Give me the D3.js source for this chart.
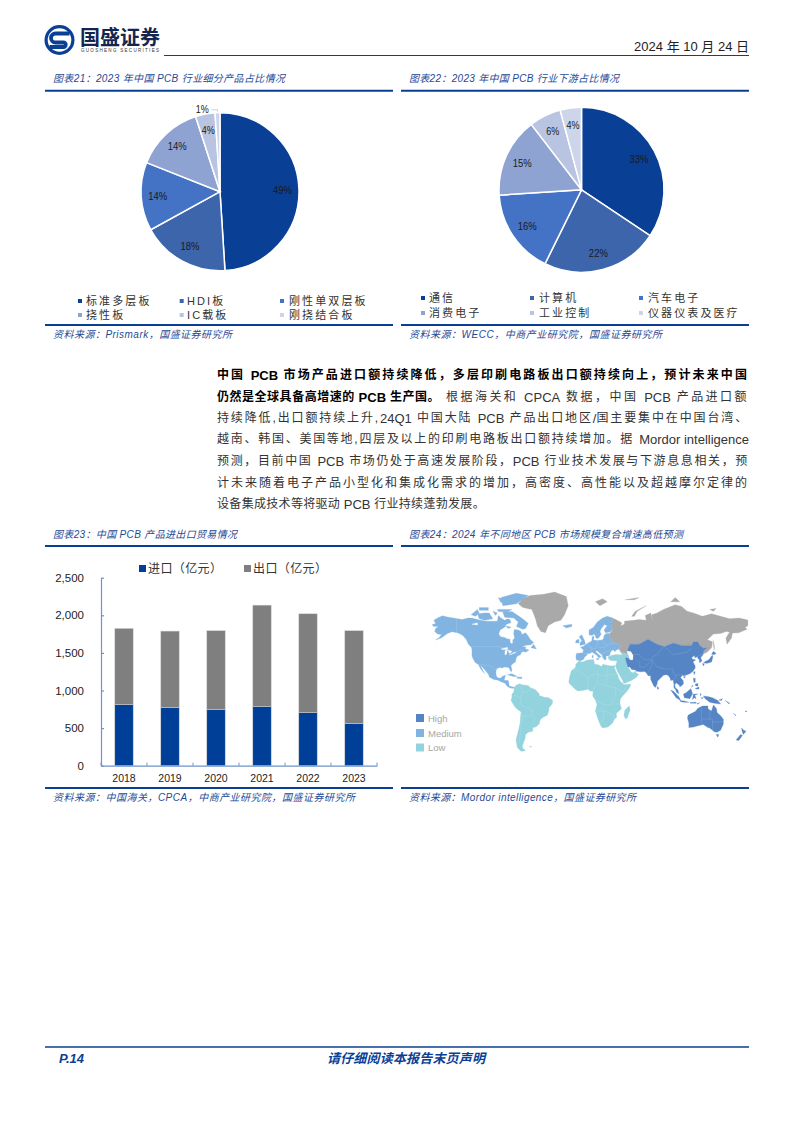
<!DOCTYPE html>
<html>
<head>
<meta charset="utf-8">
<script src="https://cdn.jsdelivr.net/npm/d3@7"></script>
<style>
html, body { margin: 0; padding: 0; background: #fff; }
svg { display: block; }
text { font-family: "Liberation Sans", "Noto Sans CJK SC", sans-serif; }
</style>
</head>
<body>
<svg width="794" height="1123"></svg>
<script>
'use strict'

// pies
const pie1Labels = ['标准多层板', 'HDI板', '刚性单双层板', '挠性板', 'IC载板', '刚挠结合板']
const pie1Values = [49, 18, 14, 14, 4, 1]
const pie2Labels = ['通信', '计算机', '汽车电子', '消费电子', '工业控制', '仪器仪表及医疗']
const pie2Values = [33, 22, 16, 15, 6, 4]
const pieColors = ['#0a3f96', '#3d65ab', '#4472c4', '#8fa3d3', '#b9c4e2', '#ccd5ea']

// bars
const years = ['2018', '2019', '2020', '2021', '2022', '2023']
const imports = [815, 775, 745, 790, 705, 560]
const exports_ = [1010, 1015, 1050, 1345, 1315, 1235]
const barTicks = [0, 500, 1000, 1500, 2000, 2500]

// map outlines, lon/lat
const greyLands = [
	[[-73,78],[-68,80.5],[-60,82],[-45,82.5],[-33,83.5],[-20,81.5],[-18,77],[-22,72],[-26,68.5],[-33,67.5],[-40,65],[-43,60],[-48,61],[-52,65],[-54,69.5],[-58,75],[-68,76]],
	[[28,70],[33,69.5],[41,67],[40,65],[44,66],[44,68],[54,68.5],[60,69],[68,68.5],[67,71.5],[73,73],[75,68],[74,72],[80,73],[87,75],[100,77.5],[107,76.5],[113,74],[120,73],[130,71],[140,72.5],[150,71],[160,69.5],[170,70],[178,69],[180,68.5],[180,65],[177,64],[179,62.5],[170,60],[163,59.8],[162,56],[157,51],[155.8,56],[160,60.5],[156,61],[150,59.5],[142,59],[135.5,54.7],[141,53],[140,48],[135,44],[131,42.7],[131,45],[135,48],[131,47.5],[127,50],[125,53],[120,53],[118,50],[107,50],[98,52],[88,49],[80,51],[70,55],[60,51],[50,51],[47,45],[48,42],[40,44],[38,47],[40,50],[32,52.5],[28,56],[28,59.5],[31,62.5],[29,66],[31,70]],
	[[52,71],[56,74],[68,77],[58,74],[55,71]],
	[[142,54],[143,50],[143,46],[142,50]],
	[[12,79],[20,80.5],[25,79],[17,77]],
	[[95,79],[105,79],[100,81]],
	[[45,80],[60,81],[55,80]],
	[[138,75],[145,75.5],[142,74]]
]
const highLands = [
	[[50,51],[60,51],[70,55],[80,51],[88,49],[98,52],[107,50],[118,50],[120,53],[125,53],[127,50],[131,47.5],[135,48],[131,45],[131,42.7],[129.5,40.5],[128,39],[129.5,36],[128,34.8],[126.3,34.5],[126.8,37],[125,38],[124.5,40],[121.5,39],[121.5,41],[118,39.2],[119,37.5],[122.5,37],[119.5,35],[121.8,31.5],[122,29],[119.5,25.5],[116,23],[113,22],[110,21],[108,21.5],[105.8,19],[108.8,15.5],[109,12],[106.5,10],[105,8.7],[104.8,10.5],[102.5,12.2],[100.8,13.3],[99.5,11],[100,8],[103,5.5],[104,1.5],[101.5,2.8],[100.3,6],[98.5,8],[98.5,12],[97.5,16.5],[95,15.8],[94.3,18.5],[92,21.5],[90,22],[87,21.5],[85,19.5],[80.3,15],[80,12],[78,8.2],[76,10.5],[73,17],[72.8,21],[70,21],[68.5,23.5],[66.5,25.3],[61.5,25],[57.5,25.7],[56,27],[52,27.5],[50,30],[48,30],[46,35],[45,39],[48.5,38.5],[53,37],[53.5,41],[51,44.5],[47,45]],
	[[95,5.5],[98,4],[104,-2],[106,-6],[101,-3]],
	[[105,-6],[110,-6.5],[115,-8],[110,-8],[106,-7.5]],
	[[109,1],[112,2.5],[117,7],[118,5],[119,1],[116,-4],[110,-3]],
	[[119,-5],[120,1],[125,1],[121.5,0],[123,-4],[121,-3]],
	[[131,-1],[137,-2],[141,-3],[147,-6],[150,-10],[143,-9],[138,-8],[133,-4]],
	[[120,18.5],[122,18],[122,14],[120.5,14]],
	[[122,7],[126,9],[126,6.5],[123,6.5]],
	[[122,12],[125,12.5],[125,10],[122.5,10]],
	[[117.5,8.5],[119.5,11],[119.5,10]],
	[[116,-8.2],[123,-8],[123,-9],[117,-9]],
	[[124,-9.3],[127,-8.5],[124,-10.2]],
	[[127.5,2],[128.5,1],[128,-1]],
	[[128,-3],[131,-3],[130,-4]],
	[[148,-5.5],[152,-4],[151,-6]],
	[[155,-6],[160,-9],[159,-9.5]],
	[[164,-20],[167,-22],[166.5,-22.5]],
	[[177,-17.5],[179,-17.5],[178,-18.5]],
	[[109,20],[111,20],[110,18.3]],
	[[120,25],[122,25],[121,22]],
	[[131,34],[135.5,33.6],[140,35],[141,38],[141.5,41],[140,40.5],[137,37],[133,35.5]],
	[[130,33.5],[132,33],[131,31]],
	[[140,42],[142,45],[145,43],[143,42]],
	[[80,9.7],[82,7.5],[80.5,6]],
	[[114,-22],[117,-20.5],[122,-18],[125,-14.5],[130,-12],[136,-12],[136,-15],[140,-17.5],[142,-11],[145.5,-15],[146,-19],[150,-22.5],[153,-26],[153,-31],[150,-37],[146,-39],[143,-38.5],[138,-35],[136,-34.5],[131,-31.5],[124,-33],[120,-34],[115,-34.5],[115,-30],[113.5,-25]],
	[[145,-41],[148,-41],[147,-43.5]],
	[[173,-35],[175.5,-37],[178,-38],[175,-41],[174,-39]],
	[[172,-41],[174,-42],[170,-46.5],[167,-46]]
]
const mediumLands = [
	[[-168,65.6],[-164,66.5],[-166,68.5],[-162,70],[-156.5,71.3],[-150,70.5],[-141,69.7],[-135,69],[-128,70],[-124,70],[-115,68.5],[-108,68],[-102,68],[-96,68],[-95,71.5],[-92,70],[-88,68.5],[-85,69.5],[-82,69],[-81,67],[-86,66],[-88,64],[-93,62],[-94.5,59],[-92.5,57],[-88,56.5],[-85,55.3],[-82,55],[-82,52.5],[-80,51.3],[-79,52],[-79,54.5],[-77,56],[-78,59],[-77.5,62.3],[-73,62],[-70,61],[-69,58.8],[-65,60],[-62,57.5],[-60,55],[-56,52.5],[-59,50.5],[-66,50],[-69,48.5],[-65,49],[-65,47],[-61,46],[-64,44.5],[-66,44],[-67,45],[-70,43.5],[-70.5,41.7],[-74,40.5],[-75.5,38],[-76,35],[-78,34],[-81,31.5],[-80,27],[-80.5,25],[-82,26.5],[-83,29],[-85,29.7],[-89,30],[-90,29],[-94,29.5],[-97,28],[-97.7,24],[-97,20.5],[-95,18.5],[-92,18.5],[-90.5,20.5],[-87,21.5],[-88,18],[-88.5,16],[-84,15.8],[-83.3,12],[-83,10],[-80,9],[-77.5,8.5],[-78,7.5],[-80,7.3],[-83,8.2],[-85.5,10],[-87.5,13],[-92,14.5],[-95,16],[-100,17],[-105,19.5],[-105.5,22],[-109,26],[-112.5,30],[-114.7,31.7],[-111,24.5],[-109.5,23],[-112,25],[-115,29],[-117,32.5],[-120.5,34.5],[-122.5,37.5],[-124,40.5],[-124,46],[-124.5,48.3],[-128,51],[-130,54.5],[-134,58],[-139,59.8],[-146,60.8],[-151,59.5],[-154,58],[-158,56],[-164,54.5],[-160,56.5],[-157.5,58.7],[-162,59],[-165,61],[-164,63],[-161,64.5],[-166,64.5]],
	[[-90,73.5],[-80,73.8],[-72,71],[-67,69],[-62,66.5],[-65,63],[-68,62.5],[-75,64.5],[-73,67.5],[-78,70],[-88,70.5]],
	[[-118,72.5],[-110,73],[-105,73],[-101,69.5],[-110,68.5],[-116,69.5]],
	[[-90,77],[-75,78],[-62,82],[-75,83],[-92,81]],
	[[-95,81],[-87,80],[-92,78.5]],
	[[-125,72],[-118,75],[-116,73],[-120,71]],
	[[-96,75],[-80,75],[-85,73.5],[-95,73.8]],
	[[-116,76],[-106,76],[-106,74.5],[-116,74.5]],
	[[-101,74],[-96,73],[-98,71.5]],
	[[-87,65],[-81,64],[-84,63]],
	[[-59,48],[-56,51],[-53,47]],
	[[-85,22],[-80,23],[-74,20],[-78,20]],
	[[-74,19.5],[-69,19.5],[-69,18],[-74,18]],
	[[-9,37],[-9.5,39],[-9,43],[-2,43.5],[-1,46],[-4.5,48.5],[-1.5,49],[2,51],[4,52],[8,53.7],[8.5,57],[10.5,57.5],[10,54.5],[14,54],[19,54.5],[21,55.5],[21.5,58],[24,59.5],[28,59.5],[28,56],[32,52.5],[40,50],[38,47],[35,46],[33.5,44.5],[32,46],[30,45.5],[28,43],[28,41.5],[26,40.7],[23.5,40.5],[24,38],[22.5,36.5],[20,39.5],[19.5,41.5],[15,44.5],[13.5,45.7],[12.3,44.5],[16,41.7],[18.5,40],[16.5,39.5],[16,38],[14,41],[10.5,43],[8.5,44.3],[6,43],[3,43],[3,41.7],[0,39.5],[-0.5,38],[-2,36.8],[-5.5,36]],
	[[5,58.5],[5,62],[10,64],[14,67.5],[20,70],[25,71],[31,70],[29,66],[31,62.5],[28,60.5],[23,60],[21.5,62],[25,65],[22,65.8],[18,62.5],[17,60.5],[18.5,59],[16,56.5],[14,55.5],[12.8,56],[11,59],[8,58]],
	[[-5,50],[1,51],[0,54],[-3,58.5],[-6,57],[-3,54],[-5,52]],
	[[-10,52],[-6,52],[-6,55],[-9,54.5]],
	[[-24,65],[-14,66],[-14,64.5],[-20,63.5]],
	[[12.5,38],[15.5,38.2],[15,36.7]],
	[[8.3,41],[9.7,41],[9.5,39],[8.5,39]]
]
const lowLands = [
	[[26,40],[29,41],[35,42],[41.5,41.5],[40,44],[48,42],[49.5,40.5],[48.5,38.5],[45,39],[46,35],[48,30],[50,27],[51.5,24.5],[54,24],[56.3,26],[56.5,24],[59.7,22.5],[57,19],[52,16],[45,13],[43,13],[42,16],[39,21],[36,26],[34.8,29],[34.3,31.2],[36,36],[32,36],[28,36.5],[26.5,38]],
	[[-6,35.8],[-2,35],[3,36.8],[10,37.3],[11,34],[10.5,33],[15,32.3],[19,30.5],[20,32.8],[25,31.7],[29,31],[32,31.3],[34.3,31.2],[32.7,29.5],[35,24.5],[37,21],[37.5,18.5],[39.5,15],[43,12],[43.5,11.3],[51,12],[50,8.5],[47,4.5],[42,-1],[39.5,-4.5],[39,-9],[40.7,-15],[35,-20],[35.5,-24],[32.8,-26],[31,-30],[26,-34],[20,-34.8],[18,-33],[15,-26.5],[12,-17.5],[13.7,-10.5],[12,-5.5],[9,-1],[9.5,4],[6,4.5],[4,6.3],[-2,5],[-7.5,4.5],[-11,7],[-13.5,9.5],[-16.8,12.5],[-17.3,15],[-16.3,20],[-14.5,26],[-10,29.5],[-9.5,33]],
	[[49.3,-12],[50.3,-16],[47,-25],[45,-25.5],[43.5,-22],[44.5,-16.5]],
	[[-77.5,8.5],[-75,11],[-71.5,12.4],[-68,11],[-62,10.5],[-60,8.3],[-54,5.8],[-50,1.5],[-50,-0.5],[-44,-2.5],[-39.5,-3],[-35,-6],[-35.5,-9.5],[-39,-14],[-39.5,-18],[-41,-22],[-45,-23.7],[-48.5,-26],[-50,-31],[-53.5,-34],[-57,-34.5],[-57,-38],[-62,-39],[-65,-41],[-65.5,-45],[-68,-50],[-68.5,-52.5],[-65,-55],[-70,-55.5],[-74,-52.5],[-75.5,-46],[-73,-38],[-71,-30],[-70,-18.5],[-76,-14],[-81,-6],[-80,-2.5],[-80,1],[-78,3],[-77.5,7]],
	[[-61,-51.5],[-58,-51.5],[-59,-52.3]]
]
const lakes = [
	[[-92,47],[-85,48.5],[-84.5,46.5],[-90,46.5]],
	[[-87.8,42],[-86,42],[-85,46],[-87.5,45.5]],
	[[-84,46],[-80,45],[-82,43],[-83.5,44]],
	[[-83,41.7],[-79,42.5],[-79,43.5],[-76,44],[-76,43.3],[-79,43]],
	[[-124,66],[-118,67],[-118,65.5]],
	[[47,45],[51,44.5],[53.5,41],[53,37],[50,37],[49.5,40.5],[47.5,43]]
]
const borders = [
	[[-141,70],[-141,60],[-130,55]],
	[[-123,49],[-95,49],[-89,48],[-83,46],[-82,43],[-79,43],[-75,45],[-70,46],[-67,45]],
	[[-117,32.5],[-106,31.5],[-101,29.5],[-97,26]],
	[[-2,43.5],[3,42.5]],
	[[2,51],[8,48],[7,44]],
	[[14,54],[15,51],[13,48],[10,47],[7,47.5]],
	[[19,54.5],[24,50],[22,48],[16,48.5]],
	[[24,50],[32,52]],
	[[30,45.5],[22,44],[19,42]],
	[[-13,28],[-8,27],[3,19],[12,23],[25,20],[25,31.5]],
	[[25,22],[37,22]],
	[[3,19],[4,12],[3,7]],
	[[14,13],[15,23]],
	[[14,13],[9,4.5]],
	[[24,10],[24,20]],
	[[14,13],[24,10],[34,8],[42,4],[47,8]],
	[[34,8],[34,-1],[30,-10],[22,-11],[13,-6]],
	[[12,-17],[24,-18],[32,-22],[33,-26]],
	[[22,-18],[20,-28],[17,-29]],
	[[40,-10],[33,-10]],
	[[-70,-18],[-68,-23],[-70,-33],[-72,-50]],
	[[-70,-11],[-58,-16],[-57,-22],[-54,-26],[-57,-30],[-53,-34]],
	[[-68,-23],[-58,-22]],
	[[-78,0],[-70,-3],[-70,-11]],
	[[-70,-3],[-69,2],[-60,5],[-60,8]],
	[[-72,11],[-67,2]],
	[[80,42],[74,39],[75,36],[80,30],[88,28],[97,28],[98,24],[101,21],[106,22],[108,21.5]],
	[[74,37],[66,37],[60,42],[54,42]],
	[[61,36],[61,30],[66,30],[70,33],[74,37]],
	[[70,24],[74,32],[75,36]],
	[[80,42],[87,49]],
	[[88,49],[98,42],[112,44],[118,47]],
	[[101,21],[98,16],[99,11]],
	[[124,40],[130,42.5]],
	[[129,-14.5],[129,-31.5]],
	[[129,-26],[141,-26],[141,-38]],
	[[138,-16],[138,-26]],
	[[141,-29],[153,-28.5]]
]
const mapLegend = ['High', 'Medium', 'Low']
const mapColors = ['#5585c5', '#82b4e2', '#93d3dd']
const mapGrey = '#a9a9a9'

// body copy, one entry per printed line
const bodyLines = [
	'根据海关和 CPCA 数据，中国 PCB 产品进口额',
	'持续降低,出口额持续上升,24Q1 中国大陆 PCB 产品出口地区/国主要集中在中国台湾、',
	'越南、韩国、美国等地,四层及以上的印刷电路板出口额持续增加。据 Mordor intelligence',
	'预测，目前中国 PCB 市场仍处于高速发展阶段，PCB 行业技术发展与下游息息相关，预',
	'计未来随着电子产品小型化和集成化需求的增加，高密度、高性能以及超越摩尔定律的',
	'设备集成技术等将驱动 PCB 行业持续蓬勃发展。'
]

const blue = '#0a3f96'
const sourceCol = '#1f4a96'
const svg = d3.select('svg')

function label(x, y, str, size, width) {
	let t = svg.append('text')
		.attr('x', x)
		.attr('y', y)
		.attr('dominant-baseline', 'central')
		.attr('font-size', size)
		.text(str)
	if (width) t.attr('textLength', width).attr('lengthAdjust', 'spacing')
	return t
}

// justified line: latin runs stay tight, only the CJK runs take the slack
function bodyText(x, y, str, width, weight, fill) {
	let t = label(x, y, '', 12).attr('font-weight', weight).attr('fill', fill)
	let cjkRuns = []
	let cjkChars = 0
	str.split(/([A-Za-z0-9\/]+(?: [A-Za-z0-9\/]+)*)/).forEach(function(part, i) {
		if (part === '') return
		let s = t.append('tspan')
			.attr('font-size', i % 2 ? 13 : 12)
			.text(part)
		if (i % 2 === 0) {
			cjkRuns.push(s)
			cjkChars += part.length
		}
	})
	let slack = (width - t.node().getComputedTextLength()) / cjkChars
	cjkRuns.forEach(function(s) { s.attr('letter-spacing', slack) })
	return t
}

function rule(x1, x2, y, w) {
	svg.append('line')
		.attr('x1', x1).attr('x2', x2)
		.attr('y1', y).attr('y2', y)
		.attr('stroke', blue)
		.attr('stroke-width', w)
}

function panel(x, width, top, bottom, title, titleW, source, sourceW) {
	label(x + 8, top - 12, title, 10, titleW)
		.attr('font-style', 'italic').attr('fill', sourceCol)
	rule(x, x + width, top, 2)
	rule(x, x + width, bottom, 2)
	label(x + 8, bottom + 9, source, 10, sourceW)
		.attr('font-style', 'italic').attr('fill', sourceCol)
}

// header
let logo = svg.append('g').attr('transform', 'translate(59.5,40)')
logo.append('circle').attr('r', 15).attr('fill', blue)
logo.append('circle').attr('r', 11.8).attr('fill', '#fff')
logo.append('path')
	.attr('d', 'M10,-6.5 H-4 A4.5,4.5 0 0 0 -4,2.5 H4 A2.2,2.2 0 0 1 4,7 H-10')
	.attr('fill', 'none').attr('stroke', blue).attr('stroke-width', 3.8)
label(80, 38, '国盛证券', 20).attr('font-weight', 700).attr('fill', '#14264f')
label(81, 50.5, 'GUOSHENG SECURITIES', 4.5, 78).attr('fill', '#333')
rule(164, 749, 55.5, 1.2)
label(749, 46, '2024 年 10 月 24 日', 13).attr('text-anchor', 'end').attr('fill', '#222')

panel(45, 348, 90.7, 325, '图表21：2023 年中国 PCB 行业细分产品占比情况', 232, '资料来源：Prismark，国盛证券研究所', 179)
panel(401, 348, 90.7, 325, '图表22：2023 年中国 PCB 行业下游占比情况', 210, '资料来源：WECC，中商产业研究院，国盛证券研究所', 253)
panel(45, 348, 546, 788, '图表23：中国 PCB 产品进出口贸易情况', 184, '资料来源：中国海关，CPCA，中商产业研究院，国盛证券研究所', 302)
panel(401, 348, 546, 788, '图表24：2024 年不同地区 PCB 市场规模复合增速高低预测', 274, '资料来源：Mordor intelligence，国盛证券研究所', 227)

// pies
function drawPie(cx, cy, r, values) {
	let arcs = d3.pie().sort(null)(values)
	let arc = d3.arc().innerRadius(0).outerRadius(r)
	let labelArc = d3.arc().innerRadius(r * 0.79).outerRadius(r * 0.79)
	let g = svg.append('g').attr('transform', 'translate(' + cx + ',' + cy + ')')

	g.selectAll('path')
		.data(arcs)
		.enter().append('path')
		.attr('d', arc)
		.attr('fill', function(d, i) { return pieColors[i] })
		.attr('stroke', '#fff')
		.attr('stroke-width', 1.5)

	g.selectAll('text')
		.data(arcs)
		.enter().append('text')
		.attr('text-anchor', 'middle')
		.attr('dominant-baseline', 'central')
		.attr('font-size', 10.5)
		.attr('fill', '#1a1a1a')
		.attr('textLength', function(d) { return d.value < 10 ? 13 : 19 })
		.attr('lengthAdjust', 'spacingAndGlyphs')
		.attr('transform', function(d) {
			// the tiny slice gets its label pulled out of the pie
			if (d.value < 2) {
				let outer = d3.arc().innerRadius(r + 5).outerRadius(r + 5).centroid(d)
				return 'translate(' + (outer[0] - 15) + ',' + (outer[1] + 1) + ')'
			}
			return 'translate(' + labelArc.centroid(d) + ')'
		})
		.text(function(d) { return d.value + '%' })

	arcs.filter(function(d) { return d.value < 2 }).forEach(function(d) {
		let a = d3.arc().innerRadius(r + 3).outerRadius(r + 3).centroid(d)
		g.append('path')
			.attr('d', d3.line()([[a[0] - 6, a[1]], [a[0], a[1]], [a[0], a[1] + 2]]))
			.attr('fill', 'none')
			.attr('stroke', '#bbb')
			.attr('stroke-width', 0.7)
	})
}

function pieLegend(labels, markX, textX, rowY, spacing) {
	labels.forEach(function(d, i) {
		let col = i % 3, row = Math.floor(i / 3)
		svg.append('rect')
			.attr('x', markX[col] - 2).attr('y', rowY[row] - 2)
			.attr('width', 4).attr('height', 4)
			.attr('fill', pieColors[i])
		label(textX[col], rowY[row], d, 11).attr('fill', '#333').attr('letter-spacing', spacing)
	})
}

drawPie(220, 191.7, 79, pie1Values)
drawPie(581.5, 189.8, 82.5, pie2Values)
pieLegend(pie1Labels, [80, 181.7, 282], [86, 187, 289], [301, 315], 2.1)
pieLegend(pie2Labels, [423, 532, 641], [429, 539, 648], [298, 313], 2.1)

// body text
bodyText(217, 375, '中国 PCB 市场产品进口额持续降低，多层印刷电路板出口额持续向上，预计未来中国', 532, 700, '#000')
bodyText(217, 397, '仍然是全球具备高增速的 PCB 生产国。', 223, 700, '#000')
let bodyY = [397, 418, 439, 461, 483, 504]
bodyLines.forEach(function(d, i) {
	let x = i === 0 ? 446 : 217
	let w = i === 0 ? 303 : (i === 5 ? 268 : 532)
	bodyText(x, bodyY[i], d, w, 400, '#333')
})

// stacked bars
let xBar = d3.scaleBand().domain(years).range([101, 377]).paddingInner(0.6).paddingOuter(0.3)
let yBar = d3.scaleLinear().domain([0, 2500]).range([765.7, 577.7])
let axisCol = '#6f93c9'

let stackRows = years.map(function(y, i) { return { year: y, imp: imports[i], exp: exports_[i] } })
let series = d3.stack().keys(['imp', 'exp'])(stackRows)
let barCols = ['#003f98', '#7f7f7f']

svg.append('g').selectAll('g')
	.data(series)
	.enter().append('g')
	.attr('fill', function(d, i) { return barCols[i] })
	.selectAll('rect')
	.data(function(d) { return d })
	.enter().append('rect')
	.attr('x', function(d) { return xBar(d.data.year) })
	.attr('width', xBar.bandwidth())
	.attr('y', function(d) { return yBar(d[1]) })
	.attr('height', function(d) { return yBar(d[0]) - yBar(d[1]) })
	.attr('stroke', '#d0d0d0')
	.attr('stroke-width', 0.5)

let yAxis = svg.append('g')
	.attr('transform', 'translate(101,0)')
	.call(d3.axisLeft(yBar).tickValues(barTicks).tickFormat(d3.format(',')).tickSizeInner(-3).tickSizeOuter(0).tickPadding(17))
let xAxis = svg.append('g')
	.attr('transform', 'translate(0,765.7)')
	.call(d3.axisBottom(xBar).tickSize(0).tickPadding(9))

// category boundary ticks point up
xAxis.selectAll('.boundary')
	.data(d3.range(years.length + 1))
	.enter().append('line')
	.attr('class', 'boundary')
	.attr('x1', function(i) { return 101 + i * xBar.step() })
	.attr('x2', function(i) { return 101 + i * xBar.step() })
	.attr('y1', 0).attr('y2', -3)
	.attr('stroke', axisCol)

yAxis.selectAll('path, line').attr('stroke', axisCol).attr('stroke-width', 1.2)
xAxis.selectAll('path').attr('stroke', axisCol).attr('stroke-width', 1.2)
yAxis.selectAll('text').attr('font-size', 11.5).attr('fill', '#222').attr('font-family', '"Liberation Sans"')
xAxis.selectAll('text').attr('font-size', 10.5).attr('fill', '#222').attr('font-family', '"Liberation Sans"')

let barLegend = ['进口（亿元）', '出口（亿元）']
barLegend.forEach(function(d, i) {
	let x = [139, 244][i]
	svg.append('rect').attr('x', x).attr('y', 565).attr('width', 7).attr('height', 7).attr('fill', barCols[i])
	label(x + 9, 568.5, d, 12, 74).attr('fill', '#333')
})

// map, Miller cylindrical built on d3.geoProjection
function millerRaw(lam, phi) {
	return [lam, 1.25 * Math.log(Math.tan(Math.PI / 4 + 0.4 * phi))]
}
let projection = d3.geoProjection(millerRaw).scale(52).translate([584.5, 695]).precision(0)
let mapLine = d3.line().curve(d3.curveLinearClosed)
function land(shapes, fill) {
	svg.append('g').selectAll('path')
		.data(shapes)
		.enter().append('path')
		.attr('d', function(d) { return mapLine(d.map(projection)) })
		.attr('fill', fill)
		.attr('stroke', fill)
		.attr('stroke-width', 0.3)
}
land(greyLands, mapGrey)
land(mediumLands, mapColors[1])
land(lowLands, mapColors[2])
land(highLands, mapColors[0])
land(lakes, '#fff')

svg.append('g').selectAll('path')
	.data(borders)
	.enter().append('path')
	.attr('d', function(d) { return d3.line()(d.map(projection)) })
	.attr('fill', 'none')
	.attr('stroke', '#fff')
	.attr('stroke-opacity', 0.3)
	.attr('stroke-width', 0.4)

mapLegend.forEach(function(d, i) {
	let y = [718, 733, 747.5][i]
	svg.append('rect').attr('x', 416).attr('y', y - 4).attr('width', 8).attr('height', 8).attr('fill', mapColors[i])
	label(428, y, d, 9.5).attr('fill', '#a6a6a6').attr('font-family', 'Lato')
})

// footer
rule(45, 749, 1047, 1.4)
label(59, 1058, 'P.14', 13).attr('font-weight', 700).attr('font-style', 'italic').attr('fill', blue)
label(327, 1058, '请仔细阅读本报告末页声明', 13, 158).attr('font-weight', 700).attr('font-style', 'italic').attr('fill', blue)
</script>
</body>
</html>
